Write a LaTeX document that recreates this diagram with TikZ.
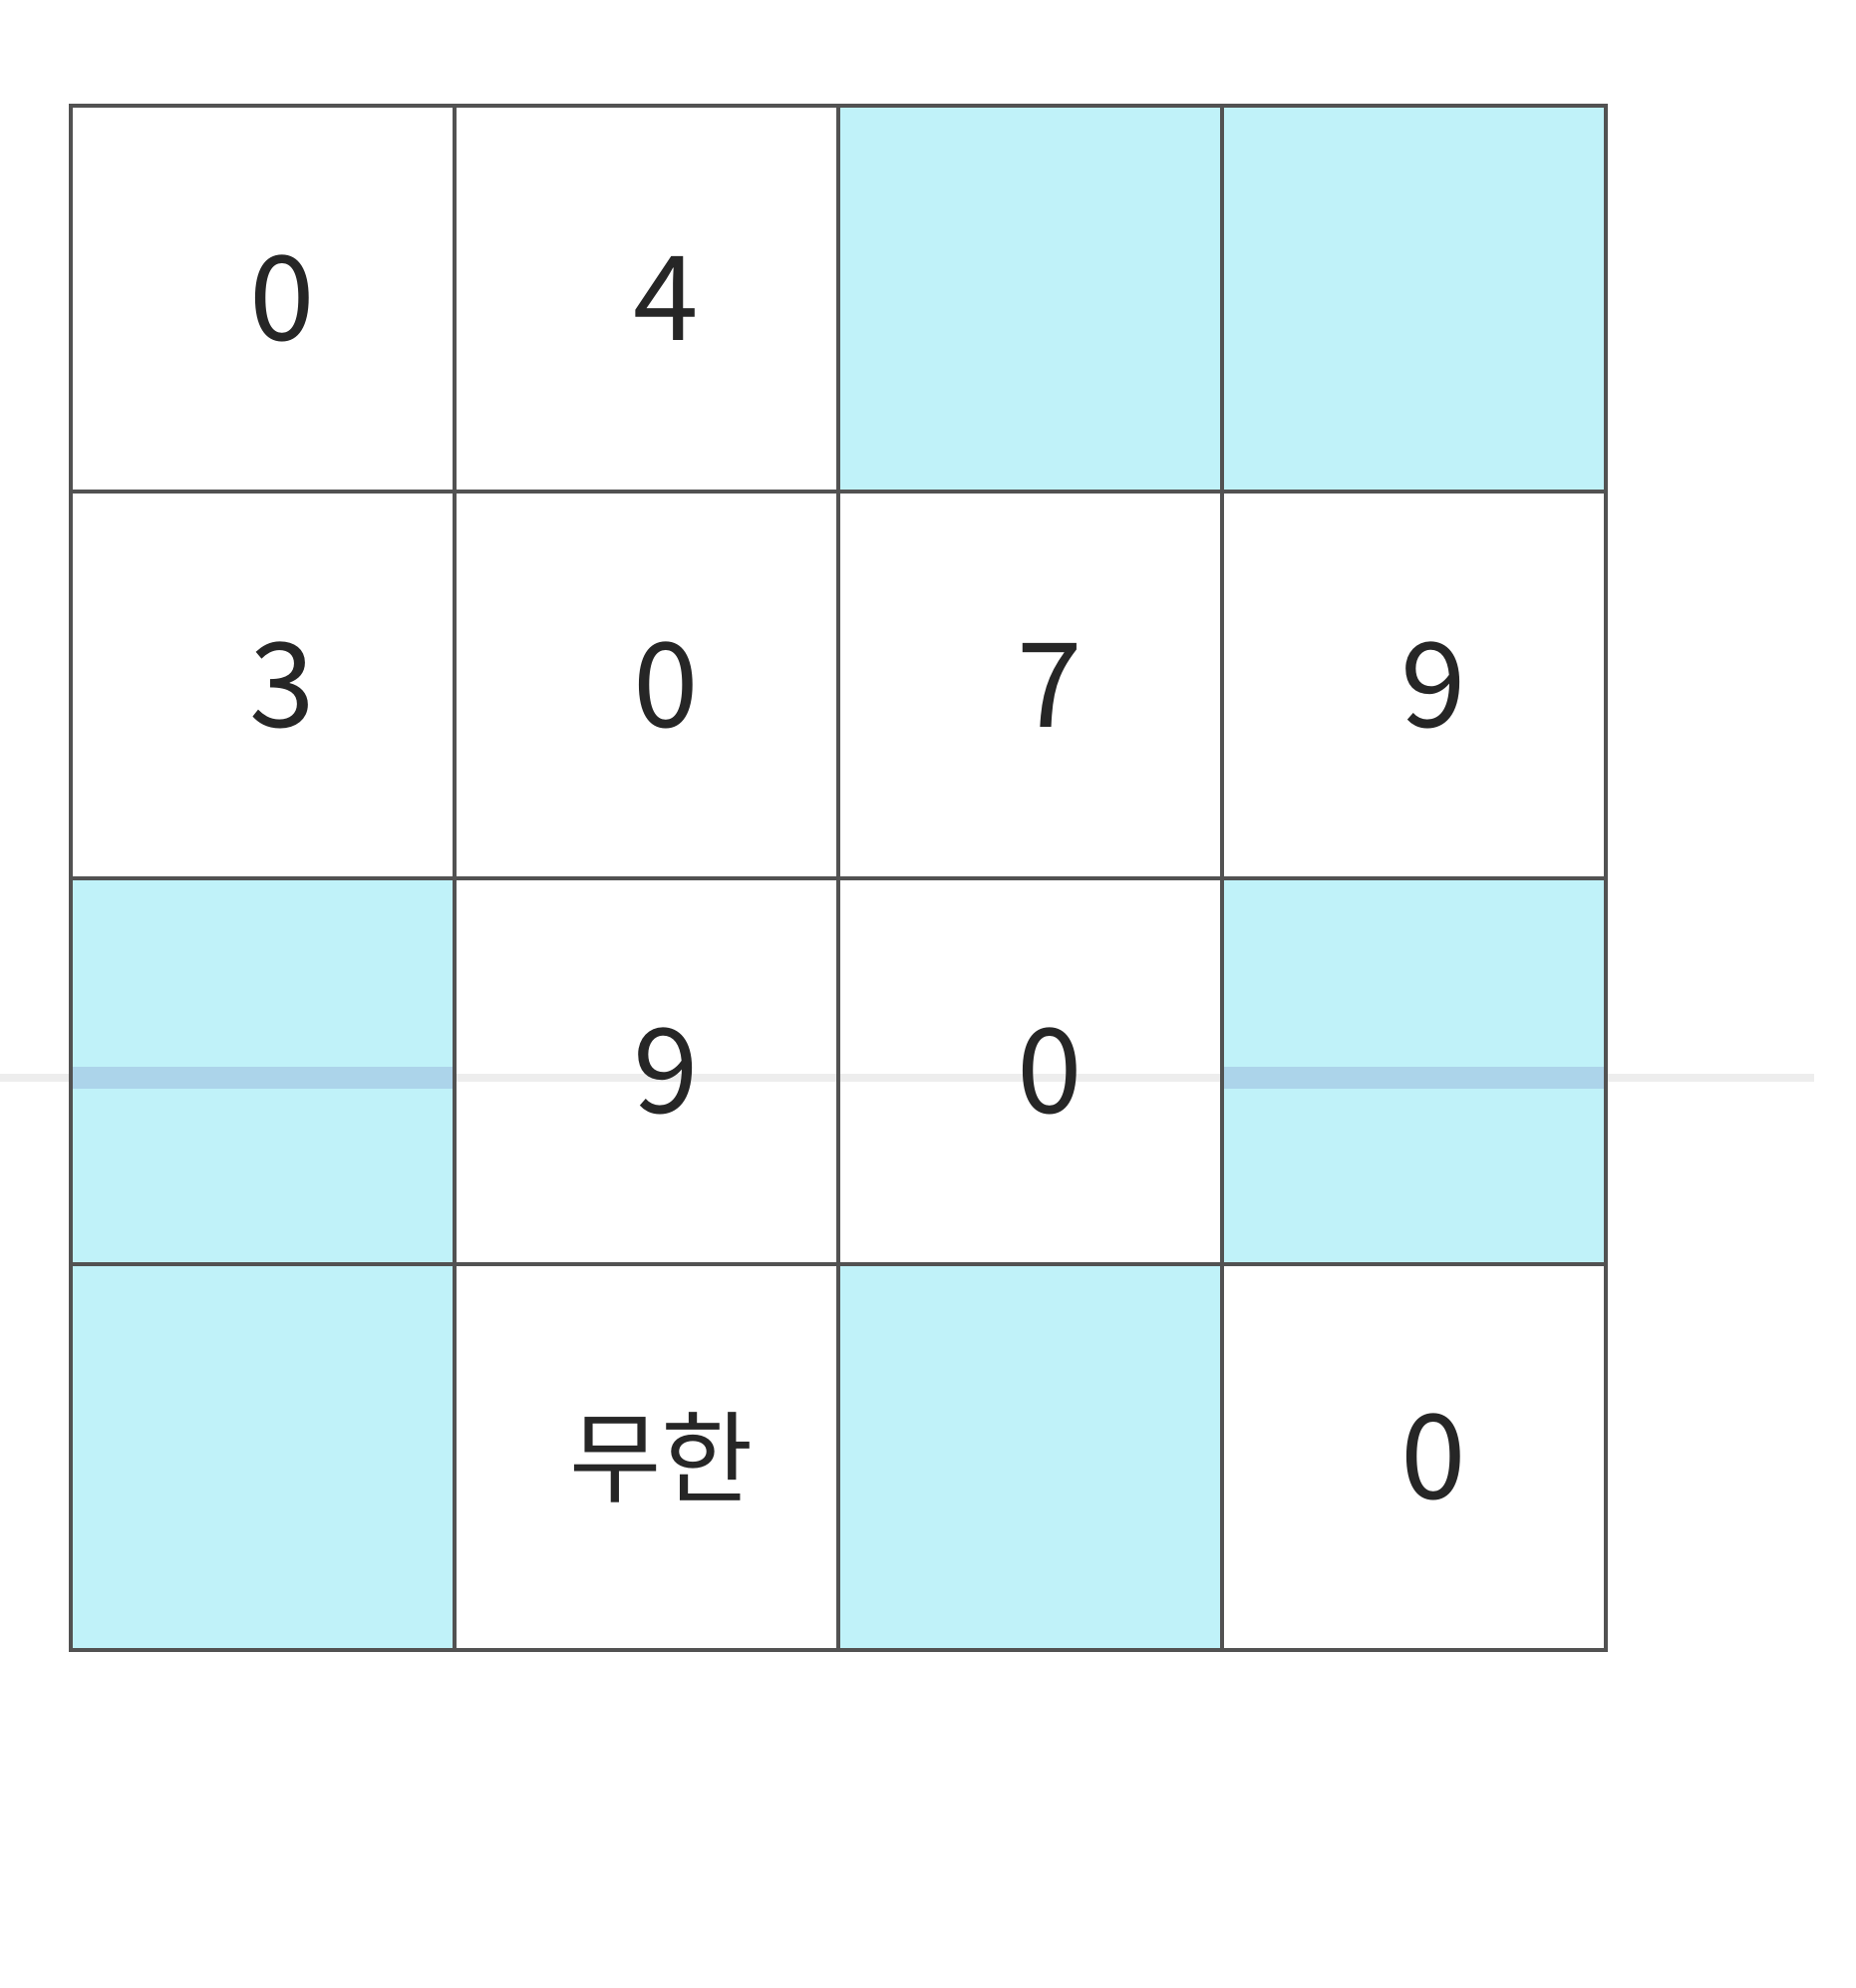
\documentclass[tikz,border=0pt]{standalone}
\usepackage{fontspec}
\setmainfont{Noto Sans CJK KR}
\usepackage{tikz}
\definecolor{cellblue}{RGB}{192,242,249}
\definecolor{bandblue}{RGB}{172,212,234}
\colorlet{gridgray}{black!68}
\tikzstyle{entry}=[font=\fontsize{118}{120}\selectfont,inner sep=0pt,text=black!85]
\tikzstyle{gridline}=[gridgray,line width=3.5pt]

\begin{document}
\begin{tikzpicture}[x=1pt,y=-1pt]
  \useasboundingbox (0,0) rectangle (1862,1994);
  \def\dx{20} % numbers sit a bit right of the cell centre
  \coordinate (tl) at (71,106);
  \coordinate (br) at (1611,1655);
  % shaded cells
  \fill[cellblue] (841,106) rectangle (1611,493);
  \fill[cellblue] (71,881) rectangle (456,1655);
  \fill[cellblue] (1226,881) rectangle (1611,1268);
  \fill[cellblue] (841,1268) rectangle (1226,1655);
  % scanner streak
  \fill[black!7] (0,1077) rectangle (1820,1085);
  \fill[bandblue] (71,1070) rectangle (456,1092);
  \fill[bandblue] (1226,1070) rectangle (1611,1092);
  % grid
  \draw[gridline] (tl) rectangle (br);
  \draw[gridline] (456,106) -- (456,1655);
  \draw[gridline] (841,106) -- (841,1655);
  \draw[gridline] (1226,106) -- (1226,1655);
  \draw[gridline] (71,493) -- (1611,493);
  \draw[gridline] (71,881) -- (1611,881);
  \draw[gridline] (71,1268) -- (1611,1268);
  % entries
  \node[entry] (a11) at (263.5+\dx,299.5) {0};
  \node[entry] (a12) at (648.5+\dx,299.5) {4};
  \node[entry] (a21) at (263.5+\dx,687) {3};
  \node[entry] (a22) at (648.5+\dx,687) {0};
  \node[entry] (a23) at (1033.5+\dx,687) {7};
  \node[entry] (a24) at (1418.5+\dx,687) {9};
  \node[entry] (a32) at (648.5+\dx,1074.5) {9};
  \node[entry] (a33) at (1033.5+\dx,1074.5) {0};
  \node[entry,scale=0.85] (a42) at (648.5+\dx-5,1461.5) {무한};
  \node[entry] (a44) at (1418.5+\dx,1461.5) {0};
\end{tikzpicture}
\end{document}
